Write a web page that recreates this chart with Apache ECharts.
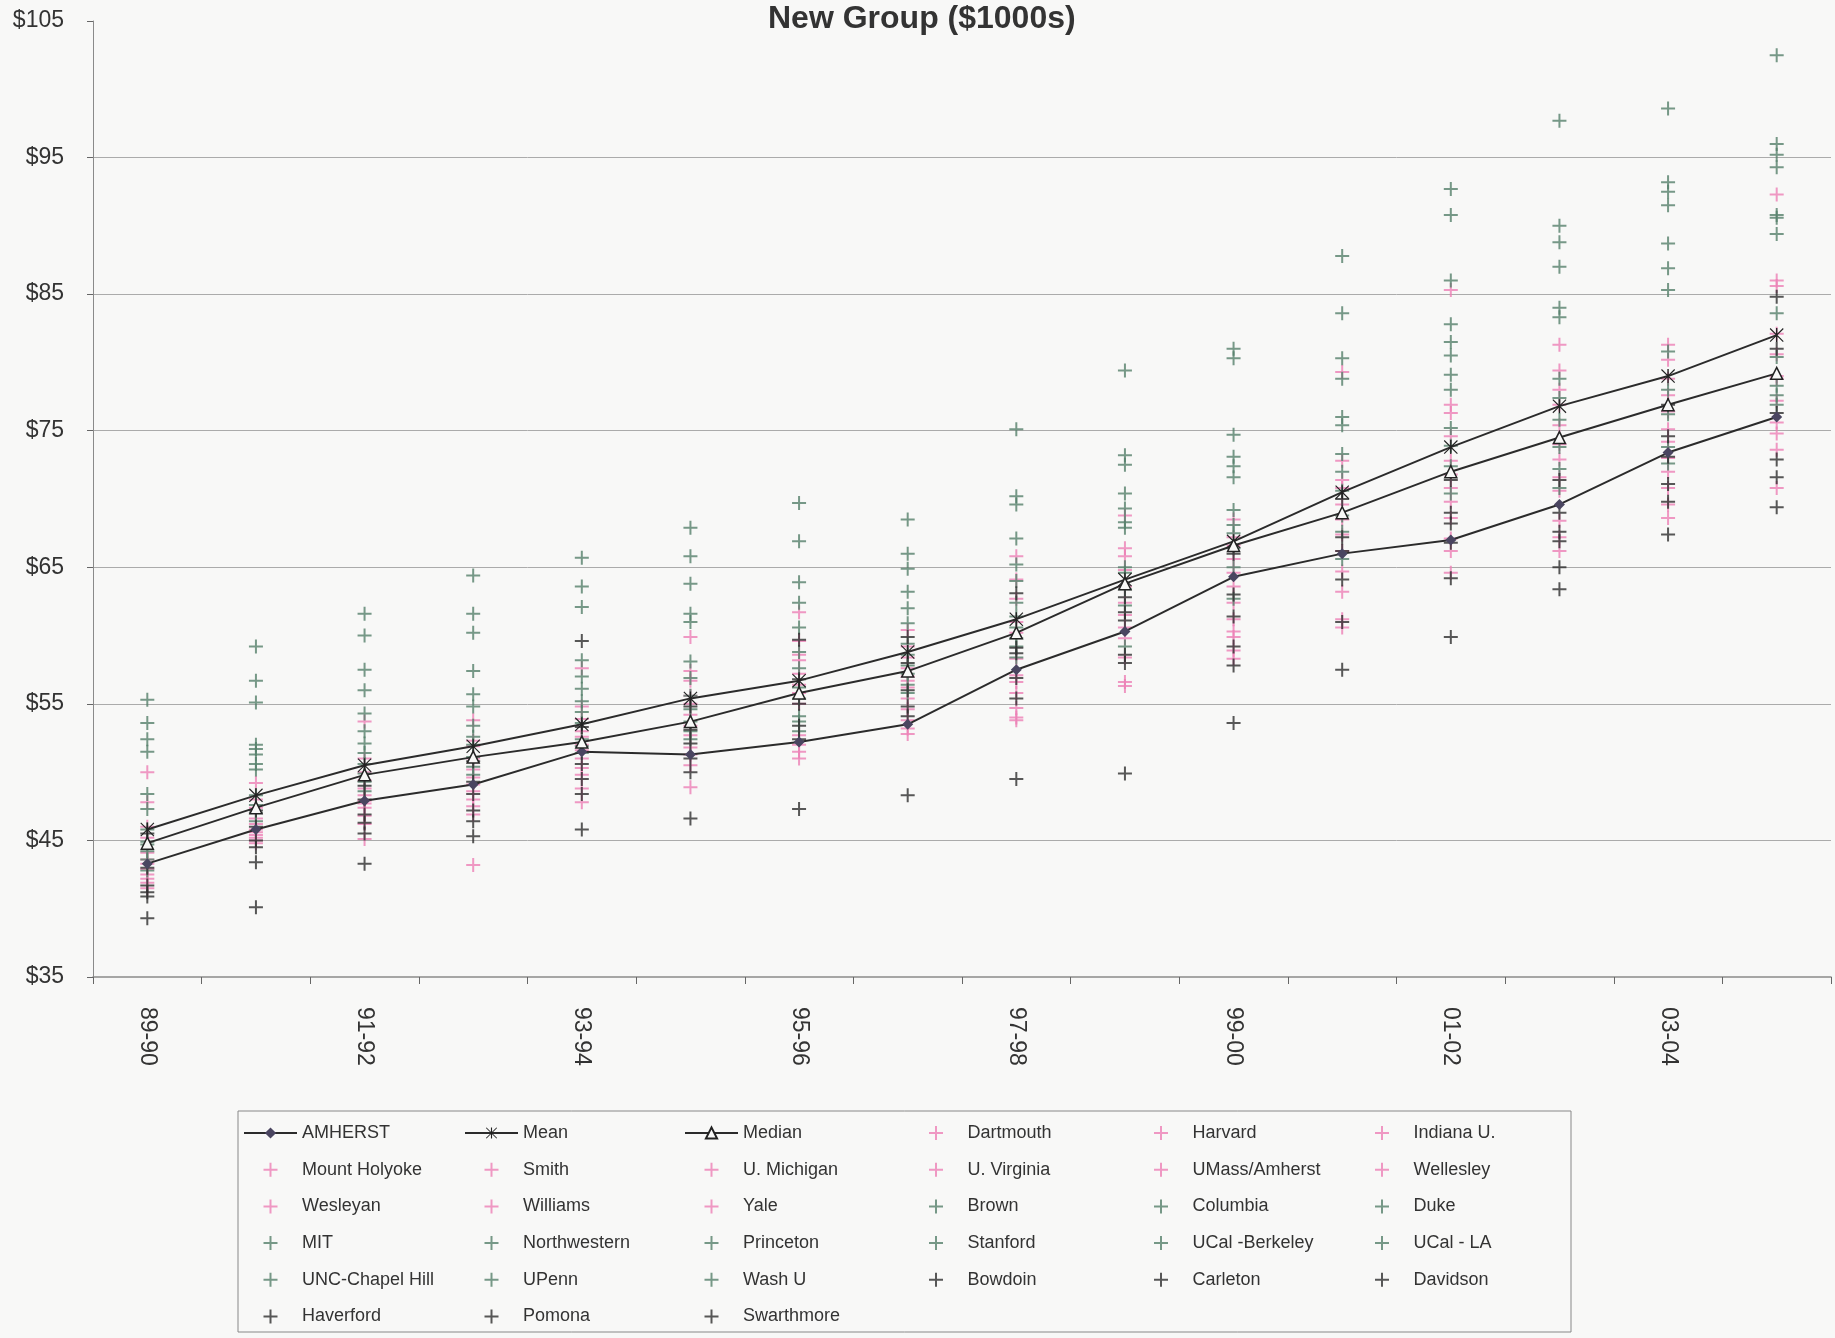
<!DOCTYPE html>
<html>
<head>
<meta charset="utf-8">
<title>New Group ($1000s)</title>
<script src="https://cdn.jsdelivr.net/npm/echarts@6/dist/echarts.min.js"></script>
<style>
  html, body { margin: 0; padding: 0; background: #f8f8f7; }
  #chart { width: 1835px; height: 1338px; }
</style>
</head>
<body>
<div id="chart"></div>
<script>
var years = ['89-90', '90-91', '91-92', '92-93', '93-94', '94-95', '95-96', '96-97',
  '97-98', '98-99', '99-00', '00-01', '01-02', '02-03', '03-04', '04-05'];

// the three summary lines ($1000s)
var amherst = [43.3, 45.8, 47.9, 49.1, 51.5, 51.3, 52.2, 53.5, 57.5, 60.3, 64.3, 66.0, 67.0, 69.6, 73.4, 76.0];
var mean = [45.8, 48.3, 50.5, 51.9, 53.5, 55.4, 56.7, 58.8, 61.2, 64.1, 66.9, 70.5, 73.8, 76.8, 79.0, 82.0];
var median = [44.8, 47.4, 49.8, 51.1, 52.2, 53.7, 55.8, 57.4, 60.2, 63.8, 66.6, 69.0, 72.0, 74.5, 76.9, 79.2];

var pinkSchools = ['Dartmouth', 'Harvard', 'Indiana U.', 'Mount Holyoke', 'Smith', 'U. Michigan',
  'U. Virginia', 'UMass/Amherst', 'Wellesley', 'Wesleyan', 'Williams', 'Yale'];
var greenSchools = ['Brown', 'Columbia', 'Duke', 'MIT', 'Northwestern', 'Princeton', 'Stanford',
  'UCal -Berkeley', 'UCal - LA', 'UNC-Chapel Hill', 'UPenn', 'Wash U'];
var darkSchools = ['Bowdoin', 'Carleton', 'Davidson', 'Haverford', 'Pomona', 'Swarthmore'];

// one row per year
var pinkByYear = [
  [50.0, 47.8, 46.0, 45.2, 44.1, 43.6, 43.3, 42.9, 42.5, 42.2, 41.9, 41.5],
  [49.2, 48.0, 47.4, 47.0, 46.6, 46.2, 45.8, 45.6, 45.4, 45.2, 45.0, 44.8],
  [53.7, 51.0, 50.0, 49.4, 48.8, 48.3, 47.9, 47.7, 47.4, 46.8, 46.2, 45.1],
  [53.8, 52.3, 51.9, 51.0, 50.2, 49.6, 49.1, 48.6, 48.0, 47.5, 46.9, 43.2],
  [57.6, 54.8, 53.9, 53.0, 52.6, 52.0, 51.6, 51.0, 50.3, 49.8, 48.8, 47.8],
  [59.9, 57.4, 56.7, 55.6, 55.0, 54.2, 53.4, 52.7, 51.8, 51.3, 50.5, 48.9],
  [61.7, 59.6, 58.6, 58.2, 57.2, 56.4, 55.8, 55.0, 52.7, 52.0, 51.5, 51.0],
  [60.4, 59.2, 58.4, 57.6, 57.0, 56.7, 56.2, 55.4, 54.6, 53.8, 53.2, 52.8],
  [65.8, 64.1, 62.7, 61.0, 60.2, 58.3, 57.1, 56.6, 55.8, 54.7, 54.0, 53.8],
  [68.8, 66.4, 65.8, 64.8, 63.6, 62.4, 61.5, 60.6, 59.8, 58.4, 56.6, 56.3],
  [68.5, 67.2, 66.6, 65.6, 64.6, 63.6, 62.4, 61.2, 60.3, 59.9, 58.9, 58.3],
  [79.3, 72.8, 71.4, 70.8, 69.6, 68.5, 67.4, 66.2, 64.7, 63.2, 61.2, 60.6],
  [85.3, 76.9, 76.3, 74.6, 72.8, 71.8, 70.8, 69.8, 68.6, 67.1, 66.2, 64.6],
  [81.3, 79.4, 78.0, 76.9, 75.4, 74.0, 72.9, 71.6, 70.6, 68.4, 67.2, 66.2],
  [81.3, 80.2, 78.8, 77.6, 76.4, 75.1, 74.2, 73.0, 72.0, 70.8, 69.6, 68.6],
  [92.3, 86.0, 85.6, 82.1, 80.6, 79.0, 78.8, 77.2, 75.6, 74.8, 73.6, 70.8]
];
var greenByYear = [
  [55.3, 53.6, 52.4, 51.5, 48.4, 47.3, 45.8, 44.9, 44.7, 44.2, 43.6, 42.8],
  [59.2, 56.7, 55.1, 52.0, 51.7, 51.3, 50.6, 50.2, 48.3, 47.6, 47.0, 46.4],
  [61.6, 60.0, 57.5, 56.0, 54.3, 53.0, 52.1, 51.4, 50.6, 49.9, 49.3, 48.6],
  [64.4, 61.6, 60.2, 57.4, 55.7, 54.8, 53.4, 52.6, 52.0, 51.1, 50.4, 49.8],
  [65.7, 63.6, 62.1, 58.2, 57.0, 56.1, 55.2, 54.4, 53.6, 52.4, 51.9, 51.4],
  [67.9, 65.8, 63.8, 61.6, 61.0, 58.1, 56.9, 55.6, 54.6, 53.7, 53.0, 52.4],
  [69.7, 66.9, 63.9, 62.4, 60.6, 58.8, 57.6, 56.2, 55.4, 54.1, 53.7, 53.0],
  [68.5, 66.0, 64.9, 63.2, 62.0, 60.9, 59.4, 58.6, 57.8, 57.2, 56.4, 55.8],
  [75.1, 70.2, 69.6, 67.1, 65.2, 64.0, 62.4, 61.4, 60.6, 59.8, 59.2, 58.4],
  [79.4, 73.2, 72.5, 70.4, 69.3, 68.3, 67.9, 65.0, 64.6, 63.4, 62.2, 59.2],
  [81.0, 80.3, 74.7, 73.1, 72.4, 71.6, 69.2, 68.1, 67.5, 66.4, 65.0, 62.7],
  [87.8, 83.6, 80.3, 78.8, 76.0, 75.4, 73.3, 72.0, 70.6, 68.8, 67.6, 65.6],
  [92.7, 90.8, 86.0, 82.8, 81.5, 80.5, 79.1, 78.0, 75.2, 73.9, 72.4, 70.4],
  [97.7, 90.0, 88.8, 87.0, 84.0, 83.3, 78.8, 77.4, 75.8, 73.8, 72.2, 70.8],
  [98.6, 93.2, 92.5, 91.5, 88.7, 86.9, 85.3, 80.8, 78.0, 76.2, 73.8, 72.6],
  [102.5, 96.0, 95.2, 94.3, 90.8, 90.6, 89.4, 83.6, 80.4, 78.3, 77.6, 76.9]
];
var darkByYear = [
  [45.5, 43.0, 41.7, 41.2, 40.9, 39.3],
  [47.2, 46.0, 45.0, 44.5, 43.4, 40.1],
  [49.0, 48.0, 46.9, 46.3, 45.5, 43.3],
  [50.8, 49.3, 48.4, 47.2, 46.4, 45.3],
  [59.6, 53.3, 50.6, 49.5, 48.4, 45.8],
  [54.8, 53.1, 52.1, 51.0, 50.0, 46.6],
  [59.7, 56.8, 55.0, 53.4, 52.4, 47.3],
  [59.9, 58.0, 56.0, 54.8, 54.1, 48.3],
  [63.1, 59.1, 58.7, 56.9, 55.4, 49.5],
  [62.8, 61.7, 61.1, 58.6, 58.0, 49.9],
  [66.0, 63.0, 61.4, 59.2, 57.8, 53.6],
  [70.0, 67.2, 66.2, 64.1, 61.0, 57.5],
  [71.4, 69.0, 68.2, 66.8, 64.2, 59.9],
  [71.4, 69.0, 67.6, 66.9, 65.0, 63.4],
  [76.9, 74.6, 73.1, 71.1, 69.8, 67.4],
  [84.8, 81.0, 76.3, 72.9, 71.6, 69.4]
];

// legend columns, as laid out in the box
var legendCols = [
  ['AMHERST', 'Mount Holyoke', 'Wesleyan', 'MIT', 'UNC-Chapel Hill', 'Haverford'],
  ['Mean', 'Smith', 'Williams', 'Northwestern', 'UPenn', 'Pomona'],
  ['Median', 'U. Michigan', 'Yale', 'Princeton', 'Wash U', 'Swarthmore'],
  ['Dartmouth', 'U. Virginia', 'Brown', 'Stanford', 'Bowdoin'],
  ['Harvard', 'UMass/Amherst', 'Columbia', 'UCal -Berkeley', 'Carleton'],
  ['Indiana U.', 'Wellesley', 'Duke', 'UCal - LA', 'Davidson']
];
var legendLefts = [238, 459, 679, 924, 1149, 1370];

var font = 'Liberation Sans, Arial, sans-serif';
var plusPath = 'path://M6,0h2v6h6v2h-6v6h-2v-6h-6v-2h6z';
var starPath = 'path://M6.3,0h1.4v14h-1.4z M0.8,0L14,13.2L13.2,14L0,0.8z M13.2,0L14,0.8L0.8,14L0,13.2z';
var lineColor = '#2b2b2b';

var series = [
  {
    name: 'AMHERST', type: 'line', data: amherst,
    symbol: 'diamond', symbolSize: 11,
    itemStyle: {color: '#4a4560'},
    lineStyle: {color: lineColor, width: 2}
  },
  {
    name: 'Mean', type: 'line', data: mean,
    symbol: starPath, symbolSize: 14,
    itemStyle: {color: '#222'},
    lineStyle: {color: lineColor, width: 2}
  },
  {
    name: 'Median', type: 'line', data: median,
    symbol: 'triangle', symbolSize: 12,
    itemStyle: {color: '#f8f8f7', borderColor: '#222', borderWidth: 1.5},
    lineStyle: {color: lineColor, width: 2}
  }
];

function addGroup(names, byYear, color) {
  names.forEach(function (name, k) {
    series.push({
      name: name, type: 'scatter',
      data: byYear.map(function (row) { return row[k]; }),
      symbol: plusPath, symbolSize: 14,
      itemStyle: {color: color}
    });
  });
}

addGroup(pinkSchools, pinkByYear, '#ec7fb5');
addGroup(greenSchools, greenByYear, '#55806a');
addGroup(darkSchools, darkByYear, '#2e2e2e');

var legends = legendCols.map(function (names, i) {
  return {
    orient: 'vertical',
    left: legendLefts[i],
    top: 1119,
    data: names,
    itemWidth: 53,
    itemHeight: 14,
    itemGap: 18.7,
    selectedMode: false,
    textStyle: {fontSize: 18, lineHeight: 18, color: '#333', fontFamily: font}
  };
});

var myChart = echarts.init(document.getElementById('chart'));
myChart.setOption({
  animation: false,
  backgroundColor: '#f8f8f7',
  title: {
    text: 'New Group ($1000s)',
    left: 763, top: -2,
    textStyle: {fontSize: 32, fontWeight: 'bold', color: '#333', fontFamily: font}
  },
  legend: legends,
  grid: {left: 93, right: 4, top: 21, bottom: 361, containLabel: false, outerBoundsMode: 'none'},
  xAxis: {
    type: 'category',
    data: years,
    boundaryGap: true,
    axisLine: {lineStyle: {color: '#8a8a8a', width: 1.5}},
    axisTick: {show: true, interval: 0, length: 7, lineStyle: {color: '#666'}},
    axisLabel: {interval: 1, rotate: -90, margin: 30, fontSize: 23, color: '#333', fontFamily: font},
    splitLine: {show: false}
  },
  yAxis: {
    type: 'value',
    min: 35, max: 105, interval: 10,
    axisLine: {show: true, lineStyle: {color: '#8a8a8a', width: 1}},
    axisTick: {show: true, length: 6, lineStyle: {color: '#666'}},
    axisLabel: {formatter: '${value}', margin: 29, fontSize: 23, color: '#333', fontFamily: font},
    splitLine: {showMaxLine: false, showMinLine: false, lineStyle: {color: '#ababab', width: 1}}
  },
  graphic: [{
    type: 'rect',
    shape: {x: 238, y: 1111, width: 1333, height: 221},
    style: {fill: null, stroke: '#888', lineWidth: 1},
    silent: true
  }],
  series: series
});
</script>
</body>
</html>
